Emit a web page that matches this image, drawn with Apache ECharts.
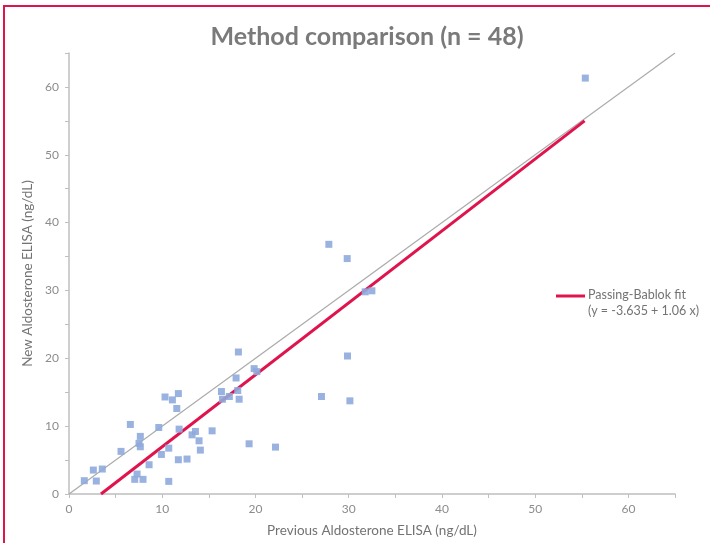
<!DOCTYPE html>
<html>
<head>
<meta charset="utf-8">
<script src="https://cdn.jsdelivr.net/npm/echarts@6/dist/echarts.min.js"></script>
<style>
html,body{margin:0;padding:0;background:#fff;}
#wrap{position:relative;width:710px;height:543px;overflow:hidden;}
#frame{position:absolute;left:3px;top:5px;width:800px;height:700px;border:2px solid #E0144C;}
#chart{position:absolute;left:0;top:0;width:710px;height:543px;}
</style>
</head>
<body>
<div id="wrap"><div id="frame"></div><div id="chart"></div></div>
<script>
// Previous ELISA (x) and New ELISA (y) values
const previousElisa = [6.58,7.65,7.51,7.65,5.58,8.59,7.30,7.05,7.94,2.61,3.57,1.64,2.93,
  10.30,11.09,11.73,11.56,9.63,11.81,13.56,13.2,13.95,14.09,15.35,10.7,9.91,11.73,12.66,10.7,
  18.17,19.86,20.15,17.92,16.35,18.1,17.2,16.46,18.25,19.32,22.15,
  27.87,29.84,31.77,32.49,29.87,27.08,30.13,55.38];
const newElisa = [10.25,8.49,7.46,6.96,6.28,4.31,2.94,2.16,2.16,3.53,3.68,1.96,1.91,
  14.3,13.87,14.8,12.6,9.8,9.56,9.22,8.72,7.84,6.47,9.31,6.76,5.83,5.05,5.15,1.86,
  20.93,18.48,18.04,17.1,15.1,15.25,14.37,13.97,13.97,7.4,6.91,
  36.8,34.7,29.8,29.95,20.34,14.37,13.73,61.3];
const identityLine = [[0,0],[65,65]];
const fitLine = [[3.43,0],[55.3,55.0]];
const axisTicks = [0,10,20,30,40,50,60];
const titleText = 'Method comparison (n = 48)';
const xTitle = 'Previous Aldosterone ELISA (ng/dL)';
const yTitle = 'New Aldosterone ELISA (ng/dL)';
const legendLine1 = 'Passing-Bablok fit';
const legendLine2 = '(y = -3.635 + 1.06 x)';

const pts = previousElisa.map((x,i)=>[x,newElisa[i]]);
const font = 'Lato, "Open Sans", sans-serif';
const axisCommon = {
  type:'value', min:0, max:65, interval:5,
  axisLine:{show:true,lineStyle:{color:'#BFBFBF',width:1.5}},
  axisTick:{show:true,length:4,lineStyle:{color:'#BFBFBF'}},
  splitLine:{show:false},
  axisLabel:{color:'#8C8C8C',fontSize:12,fontFamily:font,
    formatter:v=>axisTicks.includes(v)?String(v):''},
  nameTextStyle:{color:'#737373',fontSize:13.5,fontFamily:font}
};
const chart = echarts.init(document.getElementById('chart'),null,{renderer:'canvas'});
chart.setOption({
  animation:false,
  title:{text:titleText,left:362,top:19,textAlign:'center',
    textStyle:{color:'#7A7A7A',fontSize:25,fontWeight:'bold',fontFamily:font}},
  grid:{left:69,right:35,top:53,bottom:48},
  xAxis:Object.assign({},axisCommon,{name:xTitle,nameLocation:'middle',nameGap:30,
    axisLabel:Object.assign({},axisCommon.axisLabel,{margin:9})}),
  yAxis:Object.assign({},axisCommon,{name:yTitle,nameLocation:'middle',nameGap:34,
    axisLabel:Object.assign({},axisCommon.axisLabel,{margin:10})}),
  series:[
    {type:'line',data:identityLine,symbol:'none',lineStyle:{color:'#ABABAB',width:1.2},z:1},
    {type:'line',name:'fit',data:fitLine,symbol:'none',lineStyle:{color:'#E0144C',width:3},z:2},
    {type:'scatter',data:pts,symbol:'rect',symbolSize:7,
      itemStyle:{color:'#8FAADC',opacity:0.9},z:3}
  ],
  graphic:[
    {type:'line',shape:{x1:556,y1:296,x2:585,y2:296},style:{stroke:'#E0144C',lineWidth:3}},
    {type:'text',left:588,top:288,style:{text:legendLine1,fill:'#737373',font:'12.5px '+font}},
    {type:'text',left:588,top:304,style:{text:legendLine2,fill:'#737373',font:'12.5px '+font}}
  ]
});
</script>
</body>
</html>
